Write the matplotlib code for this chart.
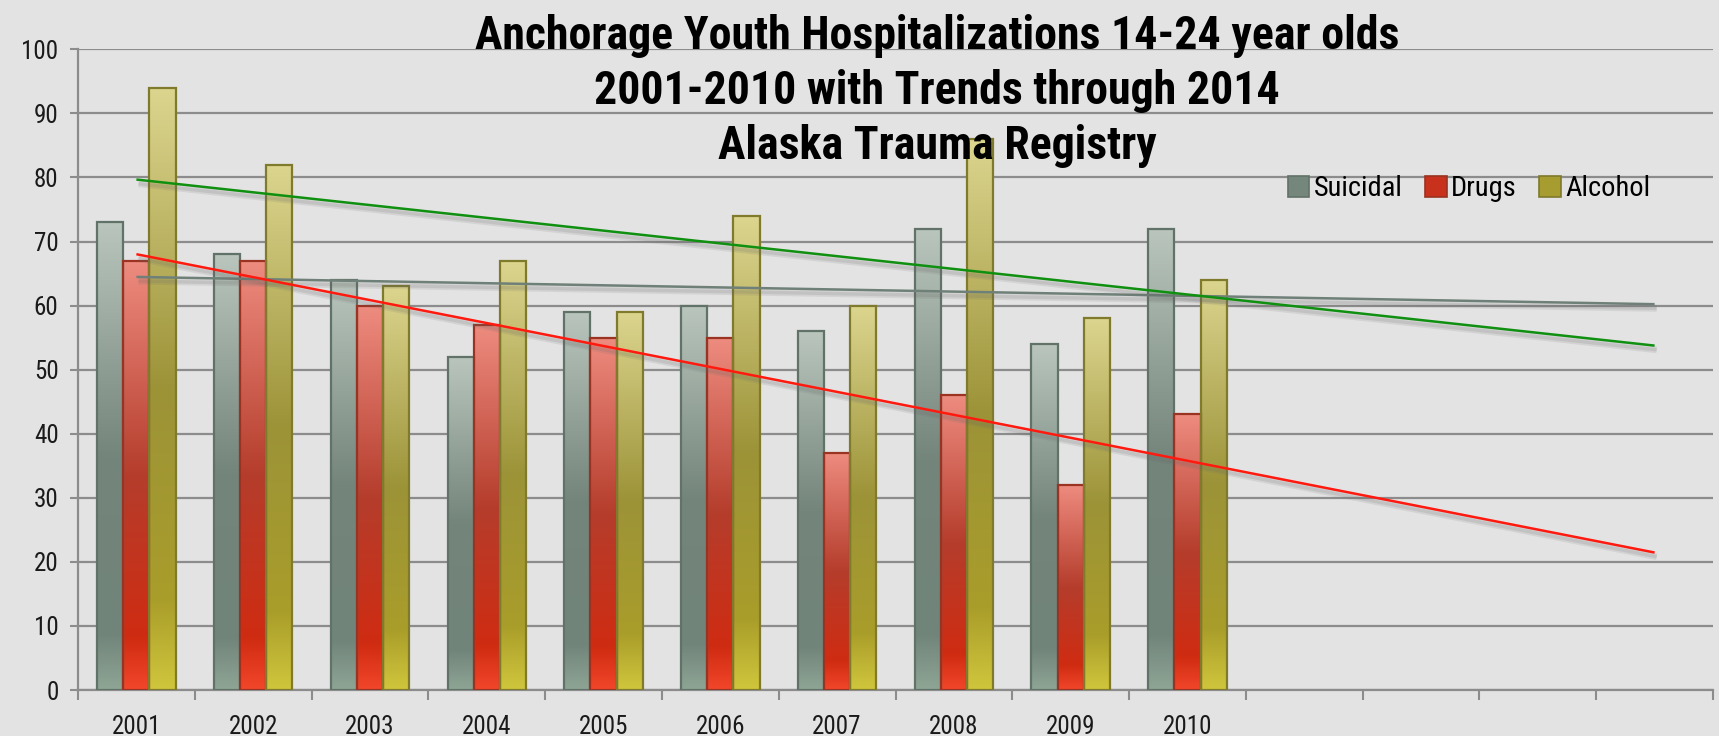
import numpy as np
import matplotlib
matplotlib.use("Agg")
import matplotlib.pyplot as plt
from matplotlib import font_manager
from matplotlib.colors import LinearSegmentedColormap
from matplotlib.patches import Rectangle, Patch
import matplotlib.patheffects as pe

# ---------------- data ----------------
years = ["2001", "2002", "2003", "2004", "2005", "2006", "2007", "2008", "2009", "2010"]
trend_years = ["2001", "2002", "2003", "2004", "2005", "2006", "2007", "2008", "2009", "2010",
               "2011", "2012", "2013", "2014"]
suicidal = [73, 68, 64, 52, 59, 60, 56, 72, 54, 72]
drugs = [67, 67, 60, 57, 55, 55, 37, 46, 32, 43]
alcohol = [94, 82, 63, 67, 59, 74, 60, 86, 58, 64]
series_names = ["Suicidal", "Drugs", "Alcohol"]
title = "Anchorage Youth Hospitalizations 14-24 year olds\n2001-2010 with Trends through 2014\nAlaska Trauma Registry"

# ---------------- fonts ----------------
available = {f.name for f in font_manager.fontManager.ttflist}
def pick(cands):
    for c in cands:
        if c in available:
            return c
    return "DejaVu Sans"
narrow = pick(["Liberation Sans Narrow", "Roboto Condensed", "DejaVu Sans Condensed", "Open Sans Condensed", "Roboto"])
plt.rcParams["font.family"] = [narrow, "DejaVu Sans"]

# ---------------- style ----------------
bg = "#e3e3e3"
grid_c = "#8c8c8c"
cmaps = {
    "Suicidal": LinearSegmentedColormap.from_list("s", [(0, "#8ea595"), (0.12, "#71847a"), (0.5, "#74857b"), (1, "#bac6bd")]),
    "Drugs": LinearSegmentedColormap.from_list("d", [(0, "#f2462a"), (0.12, "#cf2c12"), (0.5, "#b53d2c"), (1, "#ee8c80")]),
    "Alcohol": LinearSegmentedColormap.from_list("a", [(0, "#d0c63c"), (0.15, "#a99d2a"), (0.5, "#9c9338"), (1, "#dcd58f")]),
}
edges = {"Suicidal": "#617268", "Drugs": "#9b3322", "Alcohol": "#7f7a2c"}
legend_face = {"Suicidal": "#75877c", "Drugs": "#c8321c", "Alcohol": "#a69c30"}
trend_colors = {"Suicidal": "#6f8078", "Drugs": "#ff1a10", "Alcohol": "#109010"}

fig = plt.figure(figsize=(17.19, 7.36), dpi=100, facecolor=bg)
ax = fig.add_axes([78 / 1719, 1 - 690 / 736, (1713 - 78) / 1719, (690 - 49.3) / 736])
ax.set_facecolor(bg)

n_cat = len(trend_years)
x_all = np.arange(1, n_cat + 1)
x_data = np.arange(1, len(years) + 1)
bw = 0.224
offsets = [-bw, 0, bw]
data = {"Suicidal": suicidal, "Drugs": drugs, "Alcohol": alcohol}

grad = np.linspace(0, 1, 256).reshape(-1, 1)
for name, off in zip(series_names, offsets):
    vals = data[name]
    for xi, v in zip(x_data, vals):
        x0 = xi + off - bw / 2
        ax.imshow(grad, cmap=cmaps[name], origin="lower", aspect="auto",
                  extent=[x0, x0 + bw, 0, v], zorder=3, interpolation="bilinear")
        ax.add_patch(Rectangle((x0, 0), bw, v, facecolor="none", edgecolor=edges[name],
                               lw=1.6, zorder=4))

# trend lines (linear fits through 2014)
for name in series_names:
    coef = np.polyfit(x_data, data[name], 1)
    yfit = np.polyval(coef, x_all)
    ax.plot([x_all[0], x_all[-1]], [yfit[0], yfit[-1]], color=trend_colors[name], lw=1.8, zorder=6,
            solid_capstyle="butt",
            path_effects=[pe.SimpleLineShadow(offset=(1.5, -3), shadow_color="#666666", alpha=0.12, linewidth=5),
                          pe.SimpleLineShadow(offset=(1.5, -3), shadow_color="#666666", alpha=0.15, linewidth=2.5),
                          pe.Normal()])

ax.set_xlim(0.5, n_cat + 0.5)
ax.set_ylim(0, 100)
ax.set_yticks(np.arange(0, 101, 10))
ax.yaxis.grid(True, color=grid_c, lw=1.6, zorder=1)
ax.set_axisbelow(True)

ax.set_xticks(np.arange(0.5, n_cat + 1, 1))
ax.set_xticklabels([])
ax.set_xticks(x_data, minor=True)
ax.set_xticklabels(years, minor=True)
ax.tick_params(axis="x", which="major", length=7, width=1.5, color=grid_c, direction="out")
ax.tick_params(axis="x", which="minor", length=0, pad=18, labelsize=18, labelcolor="#1a1a1a")
ax.tick_params(axis="y", length=6, width=1.5, color=grid_c, pad=8, labelsize=18, labelcolor="#1a1a1a")

for s in ["top", "right"]:
    ax.spines[s].set_visible(False)
for s in ["left", "bottom"]:
    ax.spines[s].set_color(grid_c)
    ax.spines[s].set_linewidth(1.6)

fig.text(937 / 1719, 1 - 91 / 736, title, ha="center", va="center", fontsize=33,
         fontweight="bold", color="black", linespacing=1.3, zorder=10)

handles = [Patch(facecolor=legend_face[n], edgecolor=edges[n], lw=1.2) for n in series_names]
fig.legend(handles, series_names, loc="center left", bbox_to_anchor=(1288 / 1719, 1 - 189 / 736),
           ncol=3, frameon=False, fontsize=20.5, handlelength=0.75, handleheight=0.75,
           handletextpad=0.15, columnspacing=0.8, borderpad=0, borderaxespad=0)

fig.savefig("out.png", dpi=100, facecolor=bg)
